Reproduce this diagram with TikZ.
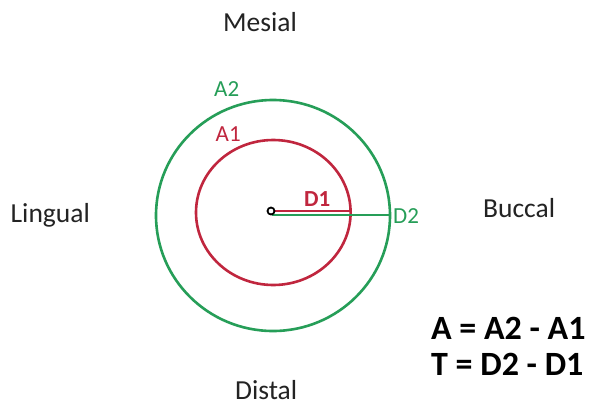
\documentclass[tikz,border=0pt]{standalone}
\usepackage{fontspec}
\setmainfont{Carlito}
\definecolor{toothred}{RGB}{192,38,62}
\definecolor{toothgreen}{RGB}{38,158,88}
\definecolor{labelgray}{RGB}{35,35,35}
\begin{document}
\begin{tikzpicture}[x=1pt,y=-1pt,
  side/.style={anchor=base west,inner sep=0pt,text=labelgray,font=\fontsize{27.5}{32}\selectfont},
  lab/.style={anchor=base west,inner sep=0pt,font=\fontsize{23}{27}\selectfont},
  formula/.style={anchor=base west,inner sep=0pt,text=black,font=\fontsize{34}{39}\selectfont\bfseries}]
\useasboundingbox[fill=white] (0,0) rectangle (595,405);
% circles
\draw[toothgreen,line width=2.6pt] (273,215.5) ellipse [x radius=117, y radius=115.5];
\draw[toothred,line width=2.6pt] (273.3,212.5) ellipse [x radius=77.3, y radius=72.5];
% radii
\coordinate (c) at (272,211);
\coordinate (r1) at (350.7,211);
\coordinate (c2) at (272,215);
\coordinate (r2) at (390,215);
\draw[toothgreen,line width=2pt] (c2) -- (r2);
\draw[toothred,line width=2.4pt] (c) -- (r1);
\node[circle,draw=black,line width=1.8pt,fill=white,minimum size=7pt,inner sep=0pt] (ctr) at (271,211) {};
% side labels
\node[side] (mes) at (223,31) {Mesial};
\node[side] (lin) at (10.5,222) {Lingual};
\node[side] (buc) at (483,217) {Buccal};
\node[side] (dis) at (235,399) {Distal};
% circle labels
\node[lab,text=toothgreen] (a2) at (214,96.5) {A2};
\node[lab,text=toothred] (a1) at (215.5,141) {A1};
\node[lab,text=toothred,font=\fontsize{23}{27}\selectfont\bfseries] (d1) at (304,206.5) {D1};
\node[lab,text=toothgreen] (d2) at (393,223) {D2};
% formulas
\node[formula] (fa) at (431,339) {A = A2 - A1};
\node[formula] (ft) at (431,375) {T = D2 - D1};
\end{tikzpicture}
\end{document}
